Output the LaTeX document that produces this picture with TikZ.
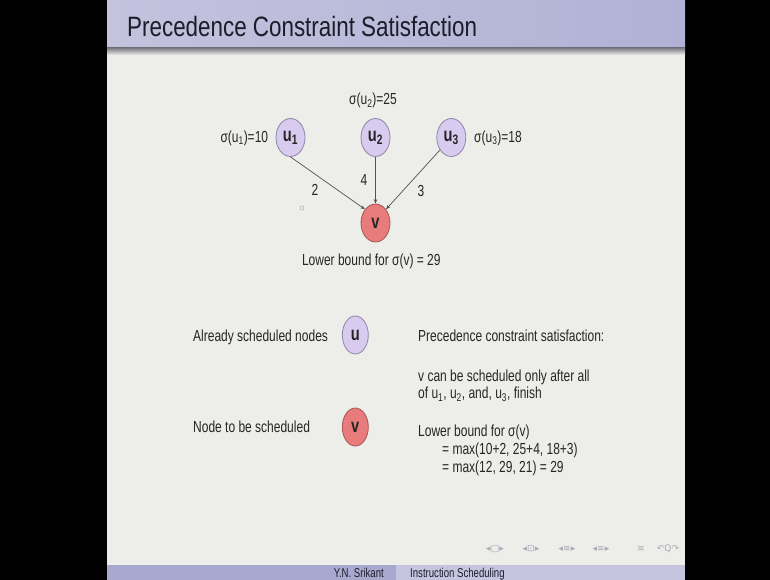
\documentclass[tikz,border=0pt]{standalone}
\usepackage{fontspec}
\setmainfont{Liberation Sans}[FakeStretch=0.75]
\newfontfamily\titlefont{Liberation Sans}[FakeStretch=0.8]
\newfontfamily\navfont{DejaVu Sans}
\usetikzlibrary{shapes.geometric,arrows.meta}

\definecolor{slidebg}{HTML}{EDEDEA}
\definecolor{barleft}{HTML}{C3C3DE}
\definecolor{barright}{HTML}{B1B1D6}
\definecolor{shadowdark}{HTML}{7C7C84}
\definecolor{footleft}{HTML}{A9A9D0}
\definecolor{footright}{HTML}{C5C5E0}
\definecolor{titlecol}{HTML}{1C1C2A}
\definecolor{textcol}{HTML}{262626}
\definecolor{ufill}{HTML}{D9CAF0}
\definecolor{uborder}{HTML}{8E86A6}
\definecolor{vfill}{HTML}{E87B7B}
\definecolor{vborder}{HTML}{A45656}
\definecolor{linkgray}{HTML}{525252}
\definecolor{navgray}{HTML}{A9A9B8}

\begin{document}
\begin{tikzpicture}[x=1pt,y=-1pt,
  every node/.style={inner sep=0pt, text=textcol},
  gnode/.style={ellipse, line width=0.8pt, minimum width=29pt, minimum height=38pt,
    font=\fontsize{19.5}{19.5}\selectfont\bfseries},
  unode/.style={gnode, draw=uborder, fill=ufill},
  vnode/.style={gnode, draw=vborder, fill=vfill},
  legendsize/.style={minimum width=26pt},
  link/.style={draw=linkgray, line width=0.7pt, -{Stealth[length=4.5pt,width=3.5pt]}},
  lbl/.style={font=\fontsize{16}{18}\selectfont},
  body/.style={font=\fontsize{16}{18}\selectfont, anchor=base west},
  footer/.style={font=\fontsize{12.8}{13}\selectfont, text=titlecol, anchor=base},
  nav/.style={font=\navfont\fontsize{9}{9}\selectfont, text=navgray},
]
\useasboundingbox (0,0) rectangle (770,580);

% frame: black surround, slide body, headline with shadow, footline
\fill[black] (0,0) rectangle (770,580);
\fill[slidebg] (107,0) rectangle (685,565);
\shade[left color=barleft, right color=barright] (107,0) rectangle (685,48);
\shade[top color=shadowdark, bottom color=slidebg] (107,48) rectangle (685,55);
\fill[footleft] (107,565) rectangle (396,580);
\fill[footright] (396,565) rectangle (685,580);

\node[anchor=base west, font=\titlefont\fontsize{28}{28}\selectfont, text=titlecol]
  (title) at (127,36.7) {Precedence Constraint Satisfaction};

% the graph
\node[unode] (u1) at (290.5,137.5) {u\textsubscript{1}};
\node[unode] (u2) at (375.5,137.5) {u\textsubscript{2}};
\node[unode] (u3) at (451.3,137.5) {u\textsubscript{3}};
\node[vnode] (v)  at (375.5,223)   {v};

\node[lbl, anchor=east] (s1) at (268.3,138)   {σ(u\textsubscript{1})=10};
\node[lbl]              (s2) at (373,100.7)   {σ(u\textsubscript{2})=25};
\node[lbl, anchor=west] (s3) at (474,138)     {σ(u\textsubscript{3})=18};

\draw[link] (u1.south) -- node[lbl, xshift=-12.9pt, yshift=-7pt] (w1) {2} (v.north west);
\draw[link] (u2) -- node[lbl, xshift=-11.5pt] (w2) {4} (v);
\draw[link] (u3) -- node[lbl, xshift=8pt, yshift=-11.3pt] (w3) {3} (v.north east);

% small pointer mark
\draw[gray!55, line width=0.6pt] (302,208) ellipse (1.8pt and 2.3pt);

\node[lbl] (lb) at (371.3,261) {Lower bound for σ(v) = 29};

% legend
\node[body] (leg1) at (193,341.5) {Already scheduled nodes};
\node[unode, legendsize] (lu) at (355.3,335) {u};
\node[body] (leg2) at (193,432.8) {Node to be scheduled};
\node[vnode, legendsize] (lv) at (355.3,427) {v};

% explanation
\node[body] (r1) at (418,341.5) {Precedence constraint satisfaction:};
\node[body] (r2) at (418,381)   {v can be scheduled only after all};
\node[body] (r3) at (418,398.5) {of u\textsubscript{1}, u\textsubscript{2}, and, u\textsubscript{3}, finish};
\node[body] (r4) at (418,436.5) {Lower bound for σ(v)};
\node[body] (r5) at (442,454.5) {= max(10+2, 25+4, 18+3)};
\node[body] (r6) at (442,472.5) {= max(12, 29, 21) = 29};

% navigation symbols
\node[nav] (n1) at (495,549) {◂□▸};
\node[nav] (n2) at (531,549) {◂⊡▸};
\node[nav] (n3) at (567,549) {◂≡▸};
\node[nav] (n4) at (601,549) {◂≡▸};
\node[nav] (n5) at (641,549) {≡};
\node[nav] (n6) at (668,549) {↶Q↷};

% footline
\node[footer, anchor=base east] (author) at (384,577.5) {Y.N. Srikant};
\node[footer, anchor=base west] (talk) at (410,577.5) {Instruction Scheduling};
\end{tikzpicture}
\end{document}
